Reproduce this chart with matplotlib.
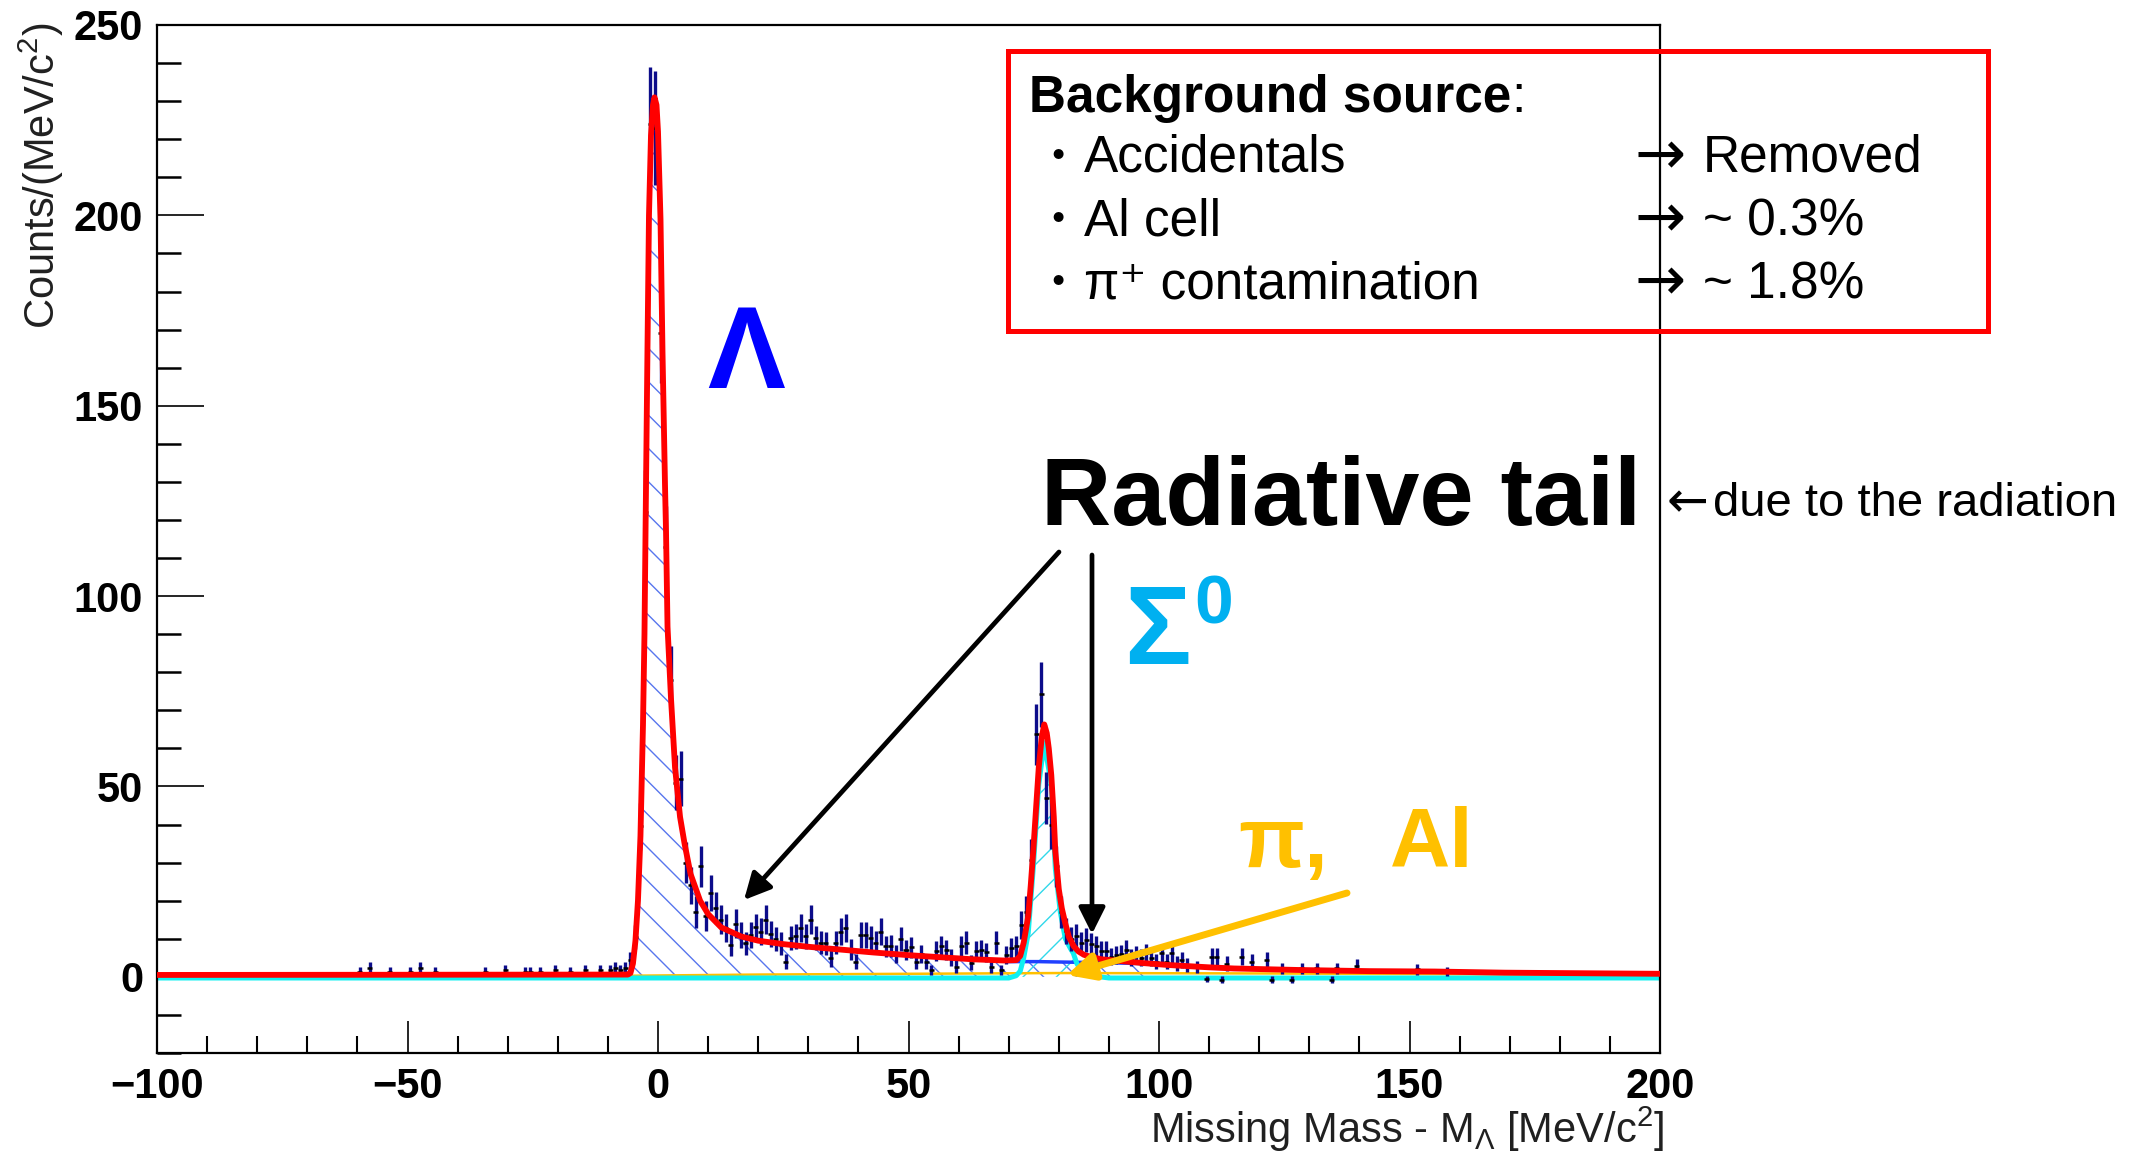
import numpy as np
import matplotlib.pyplot as plt
from matplotlib.patches import Rectangle, FancyArrowPatch
from matplotlib.ticker import MultipleLocator

plt.rcParams['font.family'] = ['Liberation Sans', 'DejaVu Sans']
plt.rcParams['mathtext.fontset'] = 'custom'
plt.rcParams['mathtext.rm'] = 'Liberation Sans'
plt.rcParams['mathtext.it'] = 'Liberation Sans:italic'
plt.rcParams['mathtext.bf'] = 'Liberation Sans:bold'
plt.rcParams['hatch.linewidth'] = 1.0

W, H = 2151, 1163          # taille de la figure en pixels


def fx(x):
    return x / W


def fy(y):
    return 1 - y / H


# histogramme (centres des bins de 1 MeV, contenus)
BIN_X = [-59.5, -57.5, -53.5, -49.5, -47.5, -44.5, -34.5, -30.5, -26.5, -25.5,
         -23.5, -20.5, -17.5, -14.5, -11.5, -9.5, -8.5, -7.5, -6.5, -5.5,
         -4.5, -3.5, -2.5, -1.5, -0.5, 0.5, 1.5, 2.5, 3.5, 4.5,
         5.5, 6.5, 7.5, 8.5, 9.5, 10.5, 11.5, 12.5, 13.5, 14.5,
         15.5, 16.5, 17.5, 18.5, 19.5, 20.5, 21.5, 22.5, 23.5, 24.5,
         25.5, 26.5, 27.5, 28.5, 29.5, 30.5, 31.5, 32.5, 33.5, 34.5,
         35.5, 36.5, 37.5, 38.5, 39.5, 40.5, 41.5, 42.5, 43.5, 44.5,
         45.5, 46.5, 47.5, 48.5, 49.5, 50.5, 51.5, 52.5, 53.5, 54.5,
         55.5, 56.5, 57.5, 58.5, 59.5, 60.5, 61.5, 62.5, 63.5, 64.5,
         65.5, 66.5, 67.5, 68.5, 69.5, 70.5, 71.5, 72.5, 73.5, 74.5,
         75.5, 76.5, 77.5, 78.5, 79.5, 80.5, 81.5, 82.5, 83.5, 84.5,
         85.5, 86.5, 87.5, 88.5, 89.5, 90.5, 91.5, 92.5, 93.5, 94.5,
         95.5, 96.5, 97.5, 98.5, 99.5, 100.5, 101.5, 102.5, 103.5, 104.5,
         105.5, 107.5, 109.5, 110.5, 111.5, 112.5, 113.5, 116.5, 118.5, 121.5,
         122.5, 124.5, 126.5, 128.5, 131.5, 134.5, 135.5, 139.5, 151.5, 157.5]
BIN_Y = [1.4, 2.3, 1.4, 1.4, 2.3, 1.4, 1.4, 1.8, 1.4, 1.4,
         1.4, 1.8, 1.4, 1.7, 1.7, 1.7, 2.3, 1.8, 2.3, 4.5,
         10.5, 39.5, 122, 224, 223, 169, 113, 78, 51, 52,
         30, 24, 17, 29, 16, 22, 18, 15, 12.8, 8.4,
         14, 11, 8.8, 11, 13, 11.9, 15, 11.2, 10, 8.8,
         4, 10.1, 10.6, 12.8, 10.6, 15, 10.1, 9, 8.8, 4.9,
         9, 11.9, 12.8, 7.2, 4, 11, 11, 10.1, 9, 11.9,
         8, 8.1, 6, 9.9, 7.1, 7.8, 4, 6, 4, 1.8,
         6.9, 8, 7.1, 5, 2.7, 8, 9, 3.7, 6.9, 7.1,
         6.4, 2.7, 9, 1.8, 5.7, 7.5, 8, 13.5, 17, 30.6,
         63.7, 74.2, 47, 40, 29, 17, 12, 10, 10.6, 8.9,
         9.7, 8.5, 8, 6.7, 6.7, 5.3, 5.8, 6, 7.1, 5,
         5.7, 5, 6.2, 5, 4, 6.2, 4, 6.2, 3.5, 4.4,
         3.1, 2.5, -0.6, 5.3, 5.3, -0.8, 3.5, 5.3, 4, 4.4,
         -0.8, 2.2, -0.8, 2.2, 2.2, -0.8, 2.2, 2.9, 2, 1.4]

# ajustement total (rouge)
FIT_X = [-100, -6.0, -5.5, -5.0, -4.5, -4.0, -3.5, -3.0, -2.7, -2.4, -2.1, -1.8,
         -1.4, -1.0, -0.7, -0.3, 0.0, 0.5, 0.9, 1.4, 1.6, 1.9, 2.6, 3.4, 4.4, 5.3,
         6.5, 8.4, 10.0, 12.6, 16.6, 20.0, 25.0, 30.0, 37.0, 43.0, 50.0, 57.0,
         63.0, 69.0, 71.5, 72.3, 73.0, 73.9, 74.4, 74.9, 75.5, 76.0, 76.6, 77.1,
         77.6, 78.0, 78.5, 79.0, 79.3, 80.0, 80.6, 81.3, 82.0, 83.0, 83.9, 85.0,
         86.5, 88.6, 92.0, 97.0, 102.0, 110.0, 115.0, 128.0, 142.0, 155.0, 169.0, 200.0]
FIT_Y = [0.5, 0.6, 1.0, 3.5, 9.5, 20.0, 37.0, 66.0, 90.0, 128.0, 165.0, 200.0,
         221.0, 229.0, 231.0, 229.0, 222.0, 199.0, 164.0, 129.0, 117.0, 92.0, 73.0, 55.0, 42.0, 35.0,
         27.0, 20.0, 16.5, 13.0, 10.6, 9.5, 8.6, 7.9, 7.1, 6.4, 5.7, 5.1,
         4.6, 4.3, 4.4, 5.5, 9.0, 16.0, 24.0, 33.0, 45.0, 55.0, 63.0, 66.3,
         64.0, 60.0, 53.0, 42.0, 33.0, 23.0, 18.0, 14.0, 10.5, 8.0, 6.7, 5.8,
         5.2, 4.6, 4.2, 3.6, 3.1, 2.5, 2.2, 1.8, 1.5, 1.4, 1.1, 0.8]

# composante Lambda (hachures bleues)
LAM_X = [-6.0, -5.5, -5.0, -4.5, -4.0, -3.5, -3.0, -2.7, -2.4, -2.1, -1.8, -1.4,
         -1.0, -0.7, -0.3, 0.0, 0.5, 0.9, 1.4, 1.6, 1.9, 2.6, 3.4, 4.4, 5.3, 6.5,
         8.4, 10.0, 12.6, 16.6, 20.0, 25.0, 30.0, 37.0, 43.0, 50.0, 57.0, 63.0,
         69.0, 72.0, 76.0, 80.0, 85.0, 90.0, 96.0, 100.0]
LAM_Y = [0.3, 0.9, 3.3, 9.2, 19.5, 36.5, 65.5, 89.5, 127.5, 164.5, 199.5, 220.5,
         228.5, 230.5, 228.5, 221.5, 198.5, 163.5, 128.5, 116.5, 91.5, 72.5, 54.5, 41.5, 34.4, 26.4,
         19.4, 15.9, 12.4, 10.0, 8.9, 8.0, 7.2, 6.4, 5.7, 5.0, 4.4, 3.9,
         3.7, 3.8, 3.9, 3.8, 3.7, 3.6, 3.4, 3.2]

# queue radiative du Lambda sous le Sigma (ligne bleue)
TAIL_X = [70.0, 76.0, 80.0, 85.0, 90.0, 96.0, 100.0, 105.0, 110.0]
TAIL_Y = [4.0, 4.0, 3.9, 3.8, 3.7, 3.5, 3.2, 2.9, 2.6]

# composante Sigma0 (cyan)
SIG_X = [-100, 70.0, 71.5, 72.3, 73.0, 73.9, 74.9, 76.0, 77.1, 78.5, 79.3, 80.3,
         81.3, 82.3, 82.9, 83.6, 84.6, 86.0, 90.0, 200]
SIG_Y = [-0.3, -0.3, 0.3, 1.5, 5.0, 11.5, 28.5, 50.5, 61.5, 50.5, 28.5, 17.0,
         10.0, 7.5, 6.2, 3.5, 1.4, 0.4, -0.3, -0.3]

# fond pi / Al (orange)
BG_X = [-5, 20, 50, 80, 120, 160, 200]
BG_Y = [0.3, 0.6, 0.8, 1.0, 0.9, 0.7, 0.5]

X_TICKS = [-100, -50, 0, 50, 100, 150, 200]
Y_TICKS = [0, 50, 100, 150, 200, 250]

ROUGE, NAVY, CYAN = "#ff0000", "#0c0c8a", "#10f0f0"
BLEU_H, CYAN_H, ORANGE = "#5876ee", "#30d8ea", "#ffc000"

fig = plt.figure(figsize=(W / 100, H / 100), dpi=100)
ax = fig.add_axes([fx(157), fy(1053), fx(1660) - fx(157), fy(25) - fy(1053)])

bx, by = np.array(BIN_X), np.array(BIN_Y)
err = np.sqrt(np.abs(by))                  # erreurs poissoniennes

ax.fill_between(LAM_X, 0, LAM_Y, facecolor="none", edgecolor=BLEU_H,
                hatch="\\", linewidth=0, zorder=1)
ax.fill_between(SIG_X, 0, SIG_Y, facecolor="none", edgecolor=CYAN_H,
                hatch="/", linewidth=0, zorder=1)
ax.plot(TAIL_X, TAIL_Y, color="#2040ff", lw=2.5, zorder=2)
ax.plot(BG_X, BG_Y, color=ORANGE, lw=1.8, zorder=2)
ax.plot(SIG_X, SIG_Y, color=CYAN, lw=3.6, zorder=2.5)

ax.errorbar(bx, by, yerr=err, fmt="none", ecolor=NAVY, elinewidth=2.4, zorder=3)
ax.errorbar(bx, by, xerr=0.5, fmt="none", ecolor="black", elinewidth=1.8, zorder=3.1)
ax.plot(FIT_X, FIT_Y, color=ROUGE, lw=4.2, zorder=4, solid_joinstyle="round")

ax.set_xlim(-100, 200)
ax.set_ylim(-20, 250)
ax.set_xticks(X_TICKS)
ax.set_xticklabels([str(v).replace("-", "\u2212") for v in X_TICKS],
                   fontsize=30, fontweight="bold")
ax.set_yticks(Y_TICKS)
ax.set_yticklabels([str(v) for v in Y_TICKS], fontsize=30, fontweight="bold")
ax.xaxis.set_minor_locator(MultipleLocator(10))
ax.yaxis.set_minor_locator(MultipleLocator(10))
ax.tick_params(axis="x", which="major", direction="in", length=23, width=1.2, pad=10)
ax.tick_params(axis="x", which="minor", direction="in", length=12, width=1.5)
ax.tick_params(axis="y", which="major", direction="in", length=34, width=1.2, pad=10)
ax.tick_params(axis="y", which="minor", direction="in", length=17, width=1.8)
for s in ax.spines.values():
    s.set_linewidth(1.6)

fig.text(fx(41), fy(23), "Counts/(MeV/c$^{2}$)", rotation=90, ha="center",
         va="top", fontsize=30, color="#202020")
fig.text(fx(1664), fy(1143), "Missing Mass - M$_{\\Lambda}$ [MeV/c$^{2}$]",
         ha="right", va="baseline", fontsize=30, color="#202020")

# cadre des sources de fond
fig.add_artist(Rectangle((fx(1008), fy(331)), fx(1988) - fx(1008), fy(51) - fy(331),
                         transform=fig.transFigure, fill=False, ec="#ff0000", lw=3.6))
titre = fig.text(fx(1029), fy(112), "Background source", fontsize=37,
                 weight="bold", va="baseline")
ax.annotate(":", xy=(1, 0), xycoords=titre, va="bottom", ha="left", fontsize=37)

LIGNES = [("Accidentals", "Removed"),
          ("Al cell", "~ 0.3%"),
          ("\u03c0\u207a contamination", "~ 1.8%")]
for (nom, val), yb in zip(LIGNES, [172, 235, 298]):
    fig.text(fx(1058), fy(yb), "\u30fb", fontsize=34, ha="center", va="baseline",
             family=["Noto Sans CJK JP", "DejaVu Sans"])
    fig.text(fx(1084), fy(yb), nom, fontsize=37, va="baseline",
             family=["Liberation Sans", "DejaVu Sans"])
    fig.text(fx(1634), fy(yb + 2), "\u2192", fontsize=44, va="baseline",
             family=["DejaVu Sans"])
    fig.text(fx(1703), fy(yb), val, fontsize=37, va="baseline")

# étiquettes des pics
fig.text(fx(707), fy(388), "\u039b", fontsize=84, weight="bold", color="#0000ff",
         va="baseline")
fig.text(fx(1124), fy(664), "\u03a3", fontsize=80, weight="bold", color="#00b0f0",
         va="baseline")
fig.text(fx(1194), fy(623), "0", fontsize=50, weight="bold", color="#00b0f0",
         va="baseline")
fig.text(fx(1238), fy(867), "\u03c0,", fontsize=62, weight="bold", color=ORANGE,
         va="baseline")
fig.text(fx(1390), fy(867), "Al", fontsize=60, weight="bold", color=ORANGE,
         va="baseline")
fig.text(fx(1041), fy(525), "Radiative tail", fontsize=70, weight="bold",
         va="baseline")
fig.text(fx(1667), fy(517), "\u2190", fontsize=36, va="baseline",
         family=["DejaVu Sans"])
fig.text(fx(1713), fy(516), "due to the radiation", va="baseline", ha="left",
         fontsize=34)

# flèches
for (x0, y0), (x1, y1), col, lw in [((1059, 552), (744, 900), "black", 3.4),
                                     ((1092, 555), (1092, 934), "black", 3.4),
                                     ((1347, 893), (1067, 975), ORANGE, 5.0)]:
    fig.add_artist(FancyArrowPatch((fx(x0), fy(y0)), (fx(x1), fy(y1)),
                                   transform=fig.transFigure,
                                   arrowstyle="-|>,head_length=0.8,head_width=0.4",
                                   mutation_scale=20, color=col, lw=lw,
                                   shrinkA=0, shrinkB=0, zorder=6))

fig.savefig("out.png", dpi=100)
